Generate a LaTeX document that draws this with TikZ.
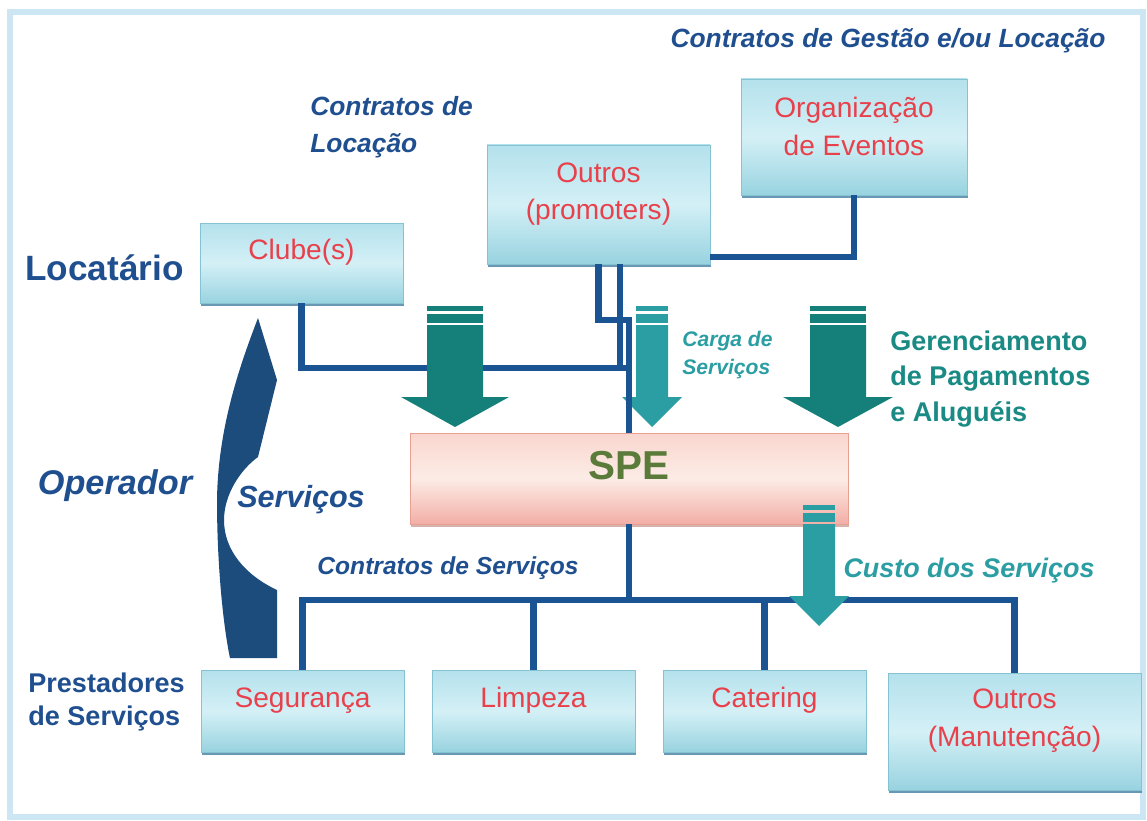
\documentclass[tikz,border=0pt]{standalone}
\usepackage{fontspec}
\setmainfont{Liberation Sans}
\usetikzlibrary{shadows}

\definecolor{navyline}{HTML}{1B5493}
\definecolor{navytext}{HTML}{1F4F8F}
\definecolor{arcblue}{HTML}{1B4C7C}
\definecolor{tealdark}{HTML}{15807A}
\definecolor{teallight}{HTML}{2A9EA2}
\definecolor{tealtext}{HTML}{1A8A84}
\definecolor{boxtop}{HTML}{B4E1EC}
\definecolor{boxmid}{HTML}{D4F0F6}
\definecolor{boxbot}{HTML}{98D3E0}
\definecolor{boxedge}{HTML}{86C3D2}
\definecolor{boxshadow}{HTML}{4E86A8}
\definecolor{boxred}{HTML}{E8414C}
\definecolor{spetop}{HTML}{F9D6CE}
\definecolor{spemid}{HTML}{FCECE6}
\definecolor{spebot}{HTML}{F2AEA6}
\definecolor{speedge}{HTML}{E8A092}
\definecolor{spegreen}{HTML}{5A7B3A}
\definecolor{framecol}{HTML}{CDE6F3}

% block arrow: centre x, top y, half shaft, half head, colour
\newcommand{\stackarrow}[5]{%
  \fill[#5] (#1-#3,#2) rectangle (#1+#3,#2+5);
  \fill[#5] (#1-#3,#2+8) rectangle (#1+#3,#2+17);
  \fill[#5] (#1-#3,#2+19) -- (#1-#3,#2+91) -- (#1-#4,#2+91) -- (#1,#2+121)
    -- (#1+#4,#2+91) -- (#1+#3,#2+91) -- (#1+#3,#2+19) -- cycle;}

\begin{document}
\begin{tikzpicture}[x=0.02cm, y=-0.02cm]
    \tikzset{
      link/.style = {draw=navyline, line width=3.5pt},
      boxsize/.style 2 args = {minimum width=#1*0.02cm, minimum height=#2*0.02cm},
      boxtext/.style = {text=boxred, align=center, inner sep=0pt,
        font=\fontsize{16}{21.5}\selectfont},
      svcbox/.style = {rectangle, draw=boxedge, line width=0.5pt,
        top color=boxtop, bottom color=boxbot, middle color=boxmid,
        drop shadow={shadow xshift=0.6pt, shadow yshift=-1.8pt,
          fill=boxshadow, opacity=0.85},
        label={[boxtext, yshift=0.21cm]center:#1}},
      spebox/.style = {rectangle, draw=speedge, line width=0.5pt,
        top color=spetop, bottom color=spebot, middle color=spemid,
        drop shadow={shadow xshift=0.6pt, shadow yshift=-1.8pt,
          fill=speedge!80!black, opacity=0.6},
        label={[text=spegreen, inner sep=0pt, yshift=0.25cm,
          font=\fontsize{23}{23}\selectfont\bfseries]center:#1}},
      note/.style = {text=navytext, inner sep=0pt, yshift=-1.7pt},
    }
    \useasboundingbox (0,0) rectangle (1147,821);
    \fill[white] (0,0) rectangle (1147,821);
    \draw[framecol, line width=3pt] (10,12) rectangle (1143,817);

    % boxes
    \node[svcbox={Clube(s)}, boxsize={203}{80}] (clube) at (301.5,263) {};
    \node[svcbox={Outros\\(promoters)}, boxsize={223}{119}] (promoters) at (598.5,204.5) {};
    \node[svcbox={Organização\\de Eventos}, boxsize={226}{116}] (eventos) at (854,137) {};
    \node[spebox={SPE}, boxsize={438}{91}] (spe) at (629,478.5) {};
    \node[svcbox={Segurança}, boxsize={203}{82}] (seguranca) at (302.5,711) {};
    \node[svcbox={Limpeza}, boxsize={203}{82}] (limpeza) at (533.5,711) {};
    \node[svcbox={Catering}, boxsize={203}{82}] (catering) at (764.5,711) {};
    \node[svcbox={Outros\\(Manutenção)}, boxsize={253}{117}] (manutencao) at (1014.5,731.5) {};

    % texts
    \node[note, font=\fontsize{15}{21}\selectfont\bfseries\itshape] (gestao) at (888,38) {Contratos de Gestão e/ou Locação};
    \node[note, anchor=west, align=left, font=\fontsize{15}{21}\selectfont\bfseries\itshape] (locacao) at (310,124) {Contratos de\\Locação};
    \node[note, anchor=west, font=\fontsize{20}{24}\selectfont\bfseries] (locatario) at (25,265) {Locatário};
    \node[note, font=\fontsize{19.5}{24}\selectfont\bfseries\itshape] (operador) at (115,483) {Operador};
    \node[note, font=\fontsize{17.4}{21}\selectfont\bfseries\itshape] (servicos) at (301,497) {Serviços};
    \node[note, text=teallight, anchor=west, align=left, font=\fontsize{12}{16}\selectfont\bfseries\itshape] (carga) at (682,352) {Carga de\\Serviços};
    \node[note, text=tealtext, anchor=west, align=left, font=\fontsize{15.4}{20.4}\selectfont\bfseries] (gerenc) at (890,376) {Gerenciamento\\de Pagamentos\\e Aluguéis};
    \node[note, font=\fontsize{14}{18}\selectfont\bfseries\itshape] (contserv) at (448,565) {Contratos de Serviços};
    \node[note, text=teallight, font=\fontsize{15.3}{19}\selectfont\bfseries\itshape] (custo) at (969,568) {Custo dos Serviços};
    \node[note, anchor=west, align=left, font=\fontsize{15.4}{19.3}\selectfont\bfseries] (prestadores) at (28,699) {Prestadores\\de Serviços};

    % connectors
    \coordinate (jc) at (629,368);
    \coordinate (jb) at (620,368);
    \coordinate (pb) at (629,320);
    \coordinate (je) at (710,257);
    \coordinate (bus) at (629,600);
    \draw[link] (clube.south) |- (jc);
    \stackarrow{455}{306}{28}{54}{tealdark}
    \stackarrow{838}{306}{28}{55}{tealdark}
    \stackarrow{652}{306}{16}{30}{teallight}
    \draw[link] (promoters.south) |- (pb) -- (spe.north);
    \draw[link] (promoters.south -| jb) -- (jb);
    \draw[link] (eventos.south) |- (je);
    \foreach \n in {seguranca,limpeza,catering,manutencao}
      \draw[link] (spe.south) -- (bus) -| (\n.north);
    \stackarrow{819}{505}{16}{30}{teallight}

    % curved arrow
    \fill[arcblue] (258,318) .. controls (238,370) and (218,430) .. (217,500)
      .. controls (217,570) and (224,630) .. (230,658) -- (277,658) -- (277,590)
      .. controls (245,575) and (224,550) .. (224,520)
      .. controls (224,495) and (240,470) .. (258,457) -- (277,380) -- cycle;
\end{tikzpicture}
\end{document}
